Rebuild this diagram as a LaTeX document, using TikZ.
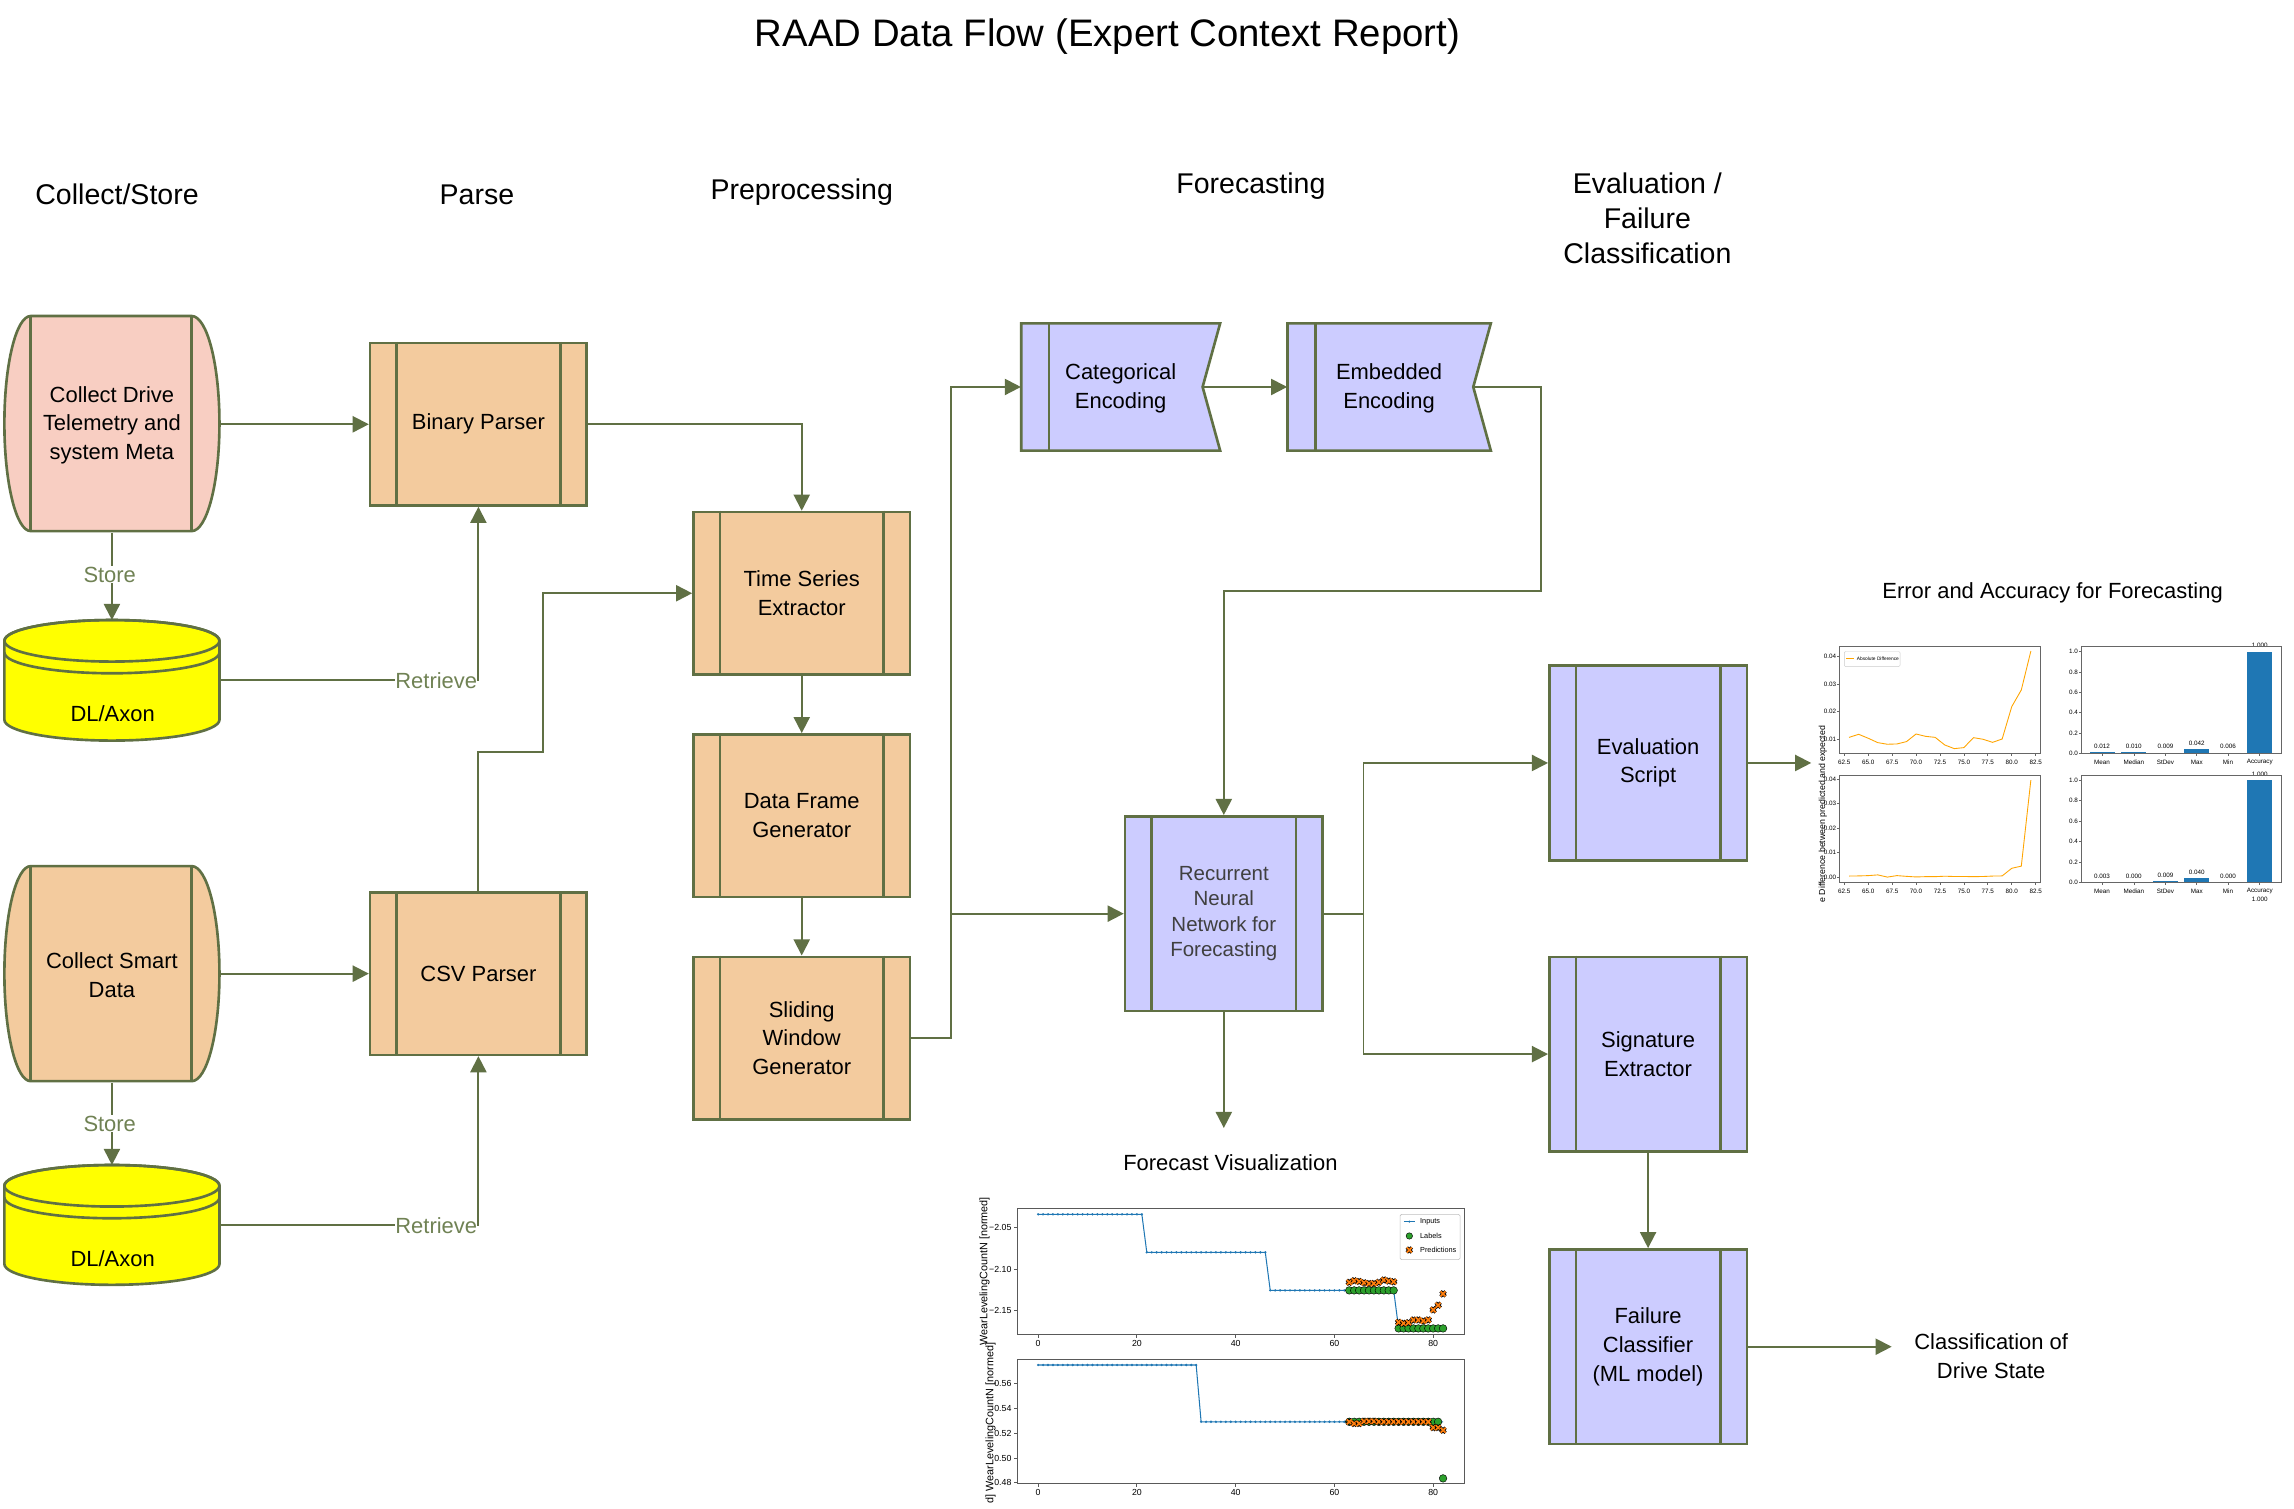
\documentclass[tikz,border=0pt]{standalone}
\usepackage{fontspec}
\setmainfont{Liberation Sans}
\usetikzlibrary{arrows.meta,calc}
\definecolor{ln}{RGB}{96,112,68}
\definecolor{lbl}{RGB}{112,130,84}
\definecolor{peach}{RGB}{243,203,158}
\definecolor{pinkf}{RGB}{248,206,194}
\definecolor{lav}{RGB}{204,204,255}
\definecolor{ylw}{RGB}{255,255,0}
\definecolor{tabblue}{RGB}{31,119,180}
\definecolor{taborange}{RGB}{255,127,14}
\definecolor{tabgreen}{RGB}{44,160,44}
\definecolor{erro}{RGB}{255,165,0}
\newcommand\fbody{\fontsize{15}{19.6}\selectfont}
\newcommand\fhead{\fontsize{19.5}{24}\selectfont}
\newcommand\ftitle{\fontsize{26.2}{30}\selectfont}
\newcommand\frnn{\fontsize{14}{17.4}\selectfont}
\newcommand\ftk{\fontsize{6}{7}\selectfont}
\newcommand\fmn{\fontsize{4.3}{5}\selectfont}
\newcommand\flg{\fontsize{5}{6}\selectfont}
\newcommand\fylab{\fontsize{7.4}{8}\selectfont}
\begin{document}
\begin{tikzpicture}[x=1pt,y=-1pt,
  proc/.style={draw=ln,line width=1.8pt,fill=peach,minimum width=148pt,minimum height=111pt,inner sep=0pt,align=center,font=\fbody},
  lproc/.style={proc,fill=lav,minimum width=135pt,minimum height=133pt},
  ghost/.style={inner sep=0pt,align=center,font=\fbody},
  shp/.style={draw=ln,line width=1.8pt},
  arr/.style={draw=ln,line width=1.3pt,-{Triangle[length=11pt,width=11pt]}},
  conn/.style={draw=ln,line width=1.3pt},
  lab/.style={font=\fbody,text=lbl,fill=white,inner sep=0.5pt},
  head/.style={font=\fhead,align=center},
  axc/.style={draw=black!65,line width=0.6pt},
  axd/.style={draw=black!60,line width=0.45pt},
  gmark/.style={draw=black,line width=0.3pt,fill=tabgreen},
  px/.pic={\draw[black,line width=2.3pt] (-1.7pt,-1.7pt)--(1.7pt,1.7pt) (-1.7pt,1.7pt)--(1.7pt,-1.7pt);
           \draw[taborange,line width=1.2pt] (-1.7pt,-1.7pt)--(1.7pt,1.7pt) (-1.7pt,1.7pt)--(1.7pt,-1.7pt);}
]
\useasboundingbox (0,0) rectangle (1568,1030.9);
\fill[white] (0,0) rectangle (1568,1030.9);

% ---------- titles ----------
\node[font=\ftitle] (title) at (757,25) {RAAD Data Flow (Expert Context Report)};
\node[head] (h1) at (80,133) {Collect/Store};
\node[head] (h2) at (326,133) {Parse};
\node[head] (h3) at (548,131) {Preprocessing};
\node[head] (h4) at (855,127) {Forecasting};
\node[head] (h5) at (1126,149) {Evaluation /\\Failure\\Classification};

% ---------- collect drums ----------
\draw[shp,fill=pinkf] (21,216) -- (131,216) arc[start angle=90,end angle=-90,x radius=19pt,y radius=73.5pt]
  -- (21,363) arc[start angle=270,end angle=90,x radius=18pt,y radius=73.5pt] -- cycle;
\draw[shp] (21,216) -- (21,363) (131,216) -- (131,363);
\node[ghost,minimum width=147pt,minimum height=147pt] (cd) at (76.5,290.5) {Collect Drive\\Telemetry and\\system Meta};

\draw[shp,fill=peach] (21,592) -- (131,592) arc[start angle=90,end angle=-90,x radius=19pt,y radius=73.5pt]
  -- (21,739) arc[start angle=270,end angle=90,x radius=18pt,y radius=73.5pt] -- cycle;
\draw[shp] (21,592) -- (21,739) (131,592) -- (131,739);
\node[ghost,minimum width=147pt,minimum height=147pt] (cs) at (76.5,666.5) {Collect Smart\\Data};

% ---------- databases ----------
\draw[shp,fill=ylw] (3,438) -- (3,492) arc[start angle=180,end angle=360,x radius=73.5pt,y radius=14.2pt]
  -- (150,438) arc[start angle=0,end angle=180,x radius=73.5pt,y radius=14.2pt] -- cycle;
\draw[shp] (76.5,438) ellipse[x radius=73.5pt,y radius=14.2pt];
\draw[shp] (3,446) arc[start angle=180,end angle=360,x radius=73.5pt,y radius=14.2pt];
\node[ghost,minimum width=147pt,minimum height=82pt] (db1) at (76.5,465) {};
\node[ghost] (db1t) at (77,488) {DL/Axon};

\draw[shp,fill=ylw] (3,810.5) -- (3,864) arc[start angle=180,end angle=360,x radius=73.5pt,y radius=14.2pt]
  -- (150,810.5) arc[start angle=0,end angle=180,x radius=73.5pt,y radius=14.2pt] -- cycle;
\draw[shp] (76.5,810.5) ellipse[x radius=73.5pt,y radius=14.2pt];
\draw[shp] (3,818.5) arc[start angle=180,end angle=360,x radius=73.5pt,y radius=14.2pt];
\node[ghost,minimum width=147pt,minimum height=82pt] (db2) at (76.5,837.5) {};
\node[ghost] (db2t) at (77,860) {DL/Axon};

% ---------- process boxes ----------
\node[proc] (bp) at (327,290) {Binary Parser};
\node[proc] (tse) at (548,405.5) {Time Series\\Extractor};
\node[proc] (dfg) at (548,557.5) {Data Frame\\Generator};
\node[proc] (swg) at (548,709.5) {Sliding\\Window\\Generator};
\node[proc] (csv) at (327,665.5) {CSV Parser};
\node[lproc,font=\frnn,text=black!75] (rnn) at (836.5,624.5) {Recurrent\\Neural\\Network for\\Forecasting};
\node[lproc] (es) at (1126.5,521.5) {Evaluation\\Script};
\node[lproc] (se) at (1126.5,720.5) {Signature\\Extractor};
\node[lproc] (fc) at (1126.5,920.5) {Failure\\Classifier\\(ML model)};
\foreach \n in {bp,tse,dfg,swg,csv,rnn,es,se,fc}
  \draw[shp] ([xshift=19pt]\n.north west) -- ([xshift=19pt]\n.south west)
             ([xshift=-19pt]\n.north east) -- ([xshift=-19pt]\n.south east);

% ---------- encoding banners ----------
\draw[shp,fill=lav] (698,221) -- (834,221) -- (822,264.5) -- (834,308) -- (698,308) -- cycle;
\draw[shp] (717,221) -- (717,308);
\node[ghost,minimum width=136pt,minimum height=87pt] (ce) at (766,265.5) {Categorical\\Encoding};
\coordinate (cen) at (822,264.5);
\draw[shp,fill=lav] (880,221) -- (1019,221) -- (1007,264.5) -- (1019,308) -- (880,308) -- cycle;
\draw[shp] (899,221) -- (899,308);
\node[ghost,minimum width=139pt,minimum height=87pt] (ee) at (949.5,265.5) {Embedded\\Encoding};
\coordinate (een) at (1007,264.5);

% ---------- free labels ----------
\node[font=\fbody] (fvl) at (841,795) {Forecast Visualization};
\coordinate (fvin) at (836.5,771);
\node[font=\fbody] (eal) at (1403,405) {Error and Accuracy for Forecasting};
\coordinate (chin) at (1238,521.5);
\node[font=\fbody,align=center] (cls) at (1361,927) {Classification of\\Drive State};
\coordinate (clin) at (1293,920.5);

% ---------- connectors ----------
\draw[arr] (cd.east |- bp.west) -- (bp.west);
\draw[arr] (cd.south) -- (db1.north);
\node[lab] (st1) at (75,393) {Store};
\draw[arr] (db1.east) -| (bp.south);
\node[lab,anchor=east,inner sep=0pt] (rt1) at (326.3,465) {Retrieve};
\draw[arr] (cs.east |- csv.west) -- (csv.west);
\draw[arr] (cs.south) -- (db2.north);
\node[lab] (st2) at (75,768) {Store};
\draw[arr] (db2.east) -| (csv.south);
\node[lab,anchor=east,inner sep=0pt] (rt2) at (326.3,837.5) {Retrieve};
\draw[arr] (bp.east) -| (tse.north);
\draw[arr] (tse) -- (dfg);
\draw[arr] (dfg) -- (swg);
\coordinate (k1) at (371,514);
\draw[arr] (csv.north) |- (k1) |- (tse.west);
\coordinate (jn) at (650,624.5);
\draw[arr] (swg.east) -| (jn) |- (ce.west |- cen);
\draw[arr] (jn) -- (rnn.west);
\draw[arr] (cen) -- (ee.west |- cen);
\coordinate (k3) at (1053,404);
\draw[arr] (een) -| (k3) -| (rnn.north);
\draw[arr] (rnn.south) -- (fvin);
\coordinate (jr) at (932,624.5);
\draw[conn] (rnn.east) -- (jr);
\draw[arr] (jr) |- (es.west);
\draw[arr] (jr) |- (se.west);
\draw[arr] (es.east) -- (chin);
\draw[arr] (se) -- (fc);
\draw[arr] (fc.east) -- (clin);

% ---------- forecast visualization plots ----------
\foreach \fy/\bt in {826/912,929/1014}{
  \draw[axc] (695.4,\fy) rectangle (1000.7,\bt);
  \foreach \t in {0,20,40,60,80}{
    \draw[axc] ({709.6+3.375*\t},\bt) -- ++(0,2.5);
    \node[font=\ftk,anchor=north,inner sep=0pt] at ({709.6+3.375*\t},{\bt+4}) {\t};}
}
\foreach \lb/\yy in {−2.05/839.2,−2.10/867.4,−2.15/895.6}{
  \draw[axc] (695.4,\yy) -- ++(-2.5,0);
  \node[font=\ftk,anchor=east,inner sep=0pt] at (691.5,\yy) {\lb};}
\foreach \lb/\yy in {0.56/945.5,0.54/962.6,0.52/979.5,0.50/996.6,0.48/1013.4}{
  \draw[axc] (695.4,\yy) -- ++(-2.5,0);
  \node[font=\ftk,anchor=east,inner sep=0pt] at (691.5,\yy) {\lb};}
\node[font=\fylab,rotate=90] (yl1) at (673,869) {WearLevelingCountN [normed]};
\node[font=\fylab,rotate=90,anchor=west] (yl2) at (677,1031) {d] WearLevelingCountN [normed]};

\begin{scope}[shift={(709.6,0)},x=3.375pt]
  \draw[tabblue,line width=0.7pt] (0,830) -- (21,830) -- (22,856) -- (46,856) -- (47,882) -- (72,882) -- (73,908) -- (82,908);
  \foreach \t in {0,...,21} \fill[tabblue] (\t,830) circle[radius=0.9pt];
  \foreach \t in {22,...,46} \fill[tabblue] (\t,856) circle[radius=0.9pt];
  \foreach \t in {47,...,72} \fill[tabblue] (\t,882) circle[radius=0.9pt];
  \foreach \t in {63,...,72} \draw[gmark] (\t,882) circle[radius=2.6pt];
  \foreach \t in {73,...,82} \draw[gmark] (\t,908) circle[radius=2.6pt];
  \foreach \t/\vy in {63/876.5,64/875.4,65/875.9,66/876.8,67/877.3,68/877.3,69/876.5,70/874.9,71/875.6,72/876.1,
     73/903.8,74/904.5,75/904.1,76/902.2,77/902.2,78/902.9,79/902.2,80/895.3,81/892.1,82/884.4}
     \pic at (\t,\vy) {px};
  % bottom plot
  \draw[tabblue,line width=0.7pt] (0,933) -- (32,933) -- (33,971.8) -- (82,971.8);
  \foreach \t in {0,...,32} \fill[tabblue] (\t,933) circle[radius=0.9pt];
  \foreach \t in {33,...,62} \fill[tabblue] (\t,971.8) circle[radius=0.9pt];
  \foreach \t in {63,...,81} \draw[gmark] (\t,971.8) circle[radius=2.6pt];
  \draw[gmark] (82,1010.5) circle[radius=2.6pt];
  \foreach \t/\vy in {63/971.8,64/973,65/973,66/971.5,67/971.5,68/971.5,69/971.8,70/971.8,71/971.8,72/971.8,
     73/971.8,74/971.8,75/971.8,76/971.8,77/971.8,78/971.8,79/971.8,80/975.8,81/975.8,82/977.6}
     \pic at (\t,\vy) {px};
\end{scope}
% legend
\draw[draw=black!25,line width=0.4pt,fill=white,rounded corners=1pt] (957,830) rectangle (998,861);
\draw[tabblue,line width=0.6pt] (959.5,835) -- (967,835);
\fill[tabblue] (963.3,835) circle[radius=0.8pt];
\node[font=\flg,anchor=west,inner sep=0pt] (lg1) at (970.5,835) {Inputs};
\draw[gmark] (963.3,844.8) circle[radius=2.2pt];
\node[font=\flg,anchor=west,inner sep=0pt] (lg2) at (970.5,844.8) {Labels};
\pic at (963.3,854.4) {px};
\node[font=\flg,anchor=west,inner sep=0pt] (lg3) at (970.5,854.4) {Predictions};

% ---------- error / accuracy plots ----------
% left line plots
\foreach \fy/\bt/\lly in {442/515/521,529.7/603.1/609.3}{
  \foreach \k/\lb in {0/62.5,1/65.0,2/67.5,3/70.0,4/72.5,5/75.0,6/77.5,7/80.0,8/82.5}{
    \draw[axd] ({1260.6+16.35*\k},\bt) -- ++(0,1.5);
    \node[font=\fmn,inner sep=0pt] at ({1260.6+16.35*\k},\lly) {\lb};}
}
\foreach \lb/\yy in {0.04/448.8,0.03/467.6,0.02/486.3,0.01/505.1,0.04/532.5,0.03/549.3,0.02/566.1,0.01/582.9,0.00/599.7}{
  \draw[axd] (1257.2,\yy) -- ++(-1.5,0);
  \node[font=\fmn,anchor=east,inner sep=0pt] at (1255.2,\yy) {\lb};}
\begin{scope}[shift={(851.85,0)},x=6.54pt]
  \draw[erro,line width=0.6pt] (63,504.0) -- (64,501.9) -- (65,504.6) -- (66,507.6) -- (67,508.7) -- (68,508.5) -- (69,506.9)
    -- (70,501.7) -- (71,503.3) -- (72,504.0) -- (73,509.2) -- (74,511.7) -- (75,511.0) -- (76,504.2) -- (77,505.3)
    -- (78,507.4) -- (79,505.1) -- (80,483.0) -- (81,471.6) -- (82,445.0);
  \draw[erro,line width=0.6pt] (63,598.8) -- (64,598.7) -- (65,598.5) -- (66,598.0) -- (67,599.5) -- (68,598.5) -- (69,599)
    -- (70,599.4) -- (71,599.2) -- (72,599.2) -- (73,598.9) -- (74,599.1) -- (75,599.1) -- (76,599.2) -- (77,599.1)
    -- (78,598.8) -- (79,598.7) -- (80,593.5) -- (81,592.0) -- (82,533.2);
\end{scope}
\draw[axd] (1257.2,442) rectangle (1394.4,515);
\draw[axd] (1257.2,529.7) rectangle (1394.4,603.1);
\draw[draw=black!20,line width=0.3pt,fill=white,rounded corners=0.8pt] (1260.6,445.3) rectangle (1298.7,455.6);
\draw[erro,line width=0.6pt] (1262,450) -- (1267.5,450);
\node[font=\fontsize{3.3}{4}\selectfont,anchor=west,inner sep=0pt] (lgd) at (1269,450) {Absolute Difference};
\node[font=\fontsize{6}{7}\selectfont,rotate=90,anchor=west,inner sep=0pt] (ylerr) at (1246,617) {e Difference between predicted and expected};

% right bar plots
\foreach \cx/\hh/\vl/\ct in {1436.8/0.84/0.012/Mean,1458.5/0.70/0.010/Median,1480.1/0.63/0.009/StDev,1501.5/2.92/0.042/Max,1522.9/0.42/0.006/Min,1544.6/69.6/1.000/Accuracy}{
  \fill[tabblue] ({\cx-8.5},515) rectangle ({\cx+8.5},{515-\hh});
  \node[font=\fmn,anchor=south,inner sep=0pt] at (\cx,{515-\hh-2.5}) {\vl};
  \draw[axd] (\cx,515) -- ++(0,1.5);
  \node[font=\fmn,inner sep=0pt] at (\cx,521) {\ct};}
\foreach \cx/\hh/\vl/\ct in {1436.8/0.21/0.003/Mean,1458.5/0/0.000/Median,1480.1/0.63/0.009/StDev,1501.5/2.79/0.040/Max,1522.9/0/0.000/Min,1544.6/69.7/1.000/Accuracy}{
  \fill[tabblue] ({\cx-8.5},603.1) rectangle ({\cx+8.5},{603.1-\hh});
  \node[font=\fmn,anchor=south,inner sep=0pt] at (\cx,{603.1-\hh-2.5}) {\vl};
  \draw[axd] (\cx,603.1) -- ++(0,1.5);
  \node[font=\fmn,inner sep=0pt] at (\cx,609.3) {\ct};}
\node[font=\fmn,inner sep=0pt] (acc2) at (1544.6,614.8) {1.000};
\foreach \lb/\yy in {1.0/445.4,0.8/459.3,0.6/473.2,0.4/487.1,0.2/501.1,0.0/515,1.0/533.4,0.8/547.3,0.6/561.3,0.4/575.2,0.2/589.2,0.0/603.1}{
  \draw[axd] (1422.4,\yy) -- ++(-1.5,0);
  \node[font=\fmn,anchor=east,inner sep=0pt] at (1420.4,\yy) {\lb};}
\draw[axd] (1422.4,442) rectangle (1559.6,515);
\draw[axd] (1422.4,529.7) rectangle (1559.6,603.1);
\end{tikzpicture}
\end{document}
